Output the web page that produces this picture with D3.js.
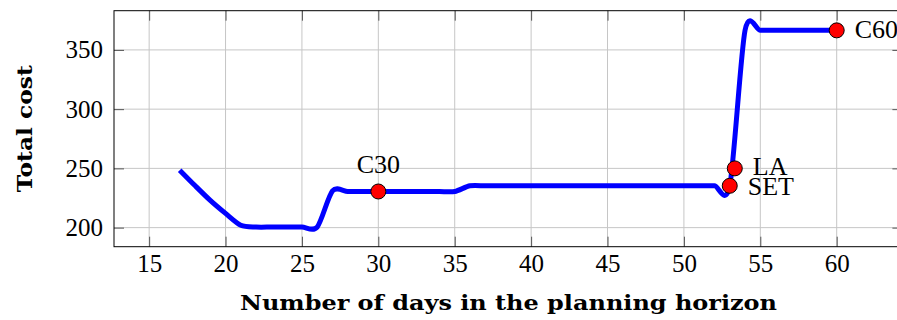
<!DOCTYPE html>
<html>
<head>
<meta charset="utf-8">
<script src="https://cdn.jsdelivr.net/npm/d3@7"></script>
<style>
  html, body { margin: 0; padding: 0; background: #fff; }
  svg { display: block; }
</style>
</head>
<body>
<svg id="chart" width="897" height="320"></svg>
<script>
// Planning horizon (days) and the resulting total cost
const days = [17, 18, 19, 20, 21, 22, 23, 24, 25, 26, 27, 28, 29, 30, 31, 32, 33, 34, 35, 36,
              37, 38, 39, 40, 41, 42, 43, 44, 45, 46, 47, 48, 49, 50, 51, 52, 53, 54, 55, 56,
              57, 58, 59, 60];
const totalCost = [248.5, 235.5, 223, 212, 202, 200.5, 200.5, 200.5, 200.5, 200.5,
                   231, 230.5, 230.5, 230.5, 230.5, 230.5, 230.5, 230.5, 230.5, 235.3,
                   235.3, 235.3, 235.3, 235.3, 235.3, 235.3, 235.3, 235.3, 235.3, 235.3,
                   235.3, 235.3, 235.3, 235.3, 235.3, 235.3, 235.3, 366.5, 366.5, 366.5,
                   366.5, 366.5, 366.5, 366.5];

// Named reference solutions
const pointNames = ["C30", "SET", "LA", "C60"];
const pointDays = [30, 53, 53.33, 60];
const pointCosts = [230.5, 235.3, 250, 366.5];

// Tick labels
const xTicks = [15, 20, 25, 30, 35, 40, 45, 50, 55, 60];
const yTicks = [200, 250, 300, 350];

const xTitle = "Number of days in the planning horizon";
const yTitle = "Total cost";

// ---- layout ----
const plotLeft = 114, plotRight = 902.4, plotTop = 10.7, plotBottom = 246.7;
const tickLen = 10;
const textFont = "'Liberation Serif', 'Times New Roman', serif";
const titleFont = "'DejaVu Serif', 'Liberation Serif', serif";

// axis limits enlarged by 10% of the data range on each side
function enlarge([lo, hi]) { const p = (hi - lo) * 0.1; return [lo - p, hi + p]; }

const x = d3.scaleLinear().domain(enlarge(d3.extent(days))).range([plotLeft, plotRight]);
const y = d3.scaleLinear().domain(enlarge(d3.extent(totalCost))).range([plotBottom, plotTop]);

const svg = d3.select("#chart");

// grid
const grid = svg.append("g").attr("stroke", "#c6c6c6").attr("stroke-width", 1);
grid.selectAll("line.vx").data(xTicks).join("line")
  .attr("x1", d => x(d)).attr("x2", d => x(d))
  .attr("y1", plotTop).attr("y2", plotBottom);
grid.selectAll("line.hy").data(yTicks).join("line")
  .attr("x1", plotLeft).attr("x2", plotRight)
  .attr("y1", d => y(d)).attr("y2", d => y(d));

// axes with inward ticks on all four sides
function styleAxis(g) {
  g.attr("font-family", null).attr("font-size", null);
  g.select(".domain").remove();
  g.selectAll(".tick line").attr("stroke", "#555").attr("stroke-width", 1);
  g.selectAll(".tick text")
    .style("font-family", textFont)
    .style("font-size", "25px")
    .style("fill", "#000");
}

svg.append("g").attr("transform", `translate(0,${plotBottom})`)
  .call(d3.axisBottom(x).tickValues(xTicks).tickSizeInner(-tickLen).tickSizeOuter(0).tickPadding(8))
  .call(styleAxis);
svg.append("g").attr("transform", `translate(0,${plotTop})`)
  .call(d3.axisTop(x).tickValues(xTicks).tickSizeInner(-tickLen).tickSizeOuter(0).tickFormat(""))
  .call(styleAxis);
svg.append("g").attr("transform", `translate(${plotLeft},0)`)
  .call(d3.axisLeft(y).tickValues(yTicks).tickSizeInner(-tickLen).tickSizeOuter(0).tickPadding(11))
  .call(styleAxis);
svg.append("g").attr("transform", `translate(${plotRight},0)`)
  .call(d3.axisRight(y).tickValues(yTicks).tickSizeInner(-tickLen).tickSizeOuter(0).tickFormat(""))
  .call(styleAxis);

// frame
svg.append("rect")
  .attr("x", plotLeft).attr("y", plotTop)
  .attr("width", plotRight - plotLeft).attr("height", plotBottom - plotTop)
  .attr("fill", "none").attr("stroke", "#000").attr("stroke-width", 1);

// cost curve
const line = d3.line()
  .x((d, i) => x(days[i]))
  .y(d => y(d))
  .curve(d3.curveCardinal.tension(0.166));

svg.append("path")
  .datum(totalCost)
  .attr("d", line)
  .attr("fill", "none")
  .attr("stroke", "#0000ff")
  .attr("stroke-width", 5)
  .attr("stroke-linejoin", "round")
  .attr("stroke-linecap", "butt");

// named points
const pts = pointNames.map((name, i) => ({ name, day: pointDays[i], cost: pointCosts[i] }));
const labelAbove = new Set(["C30"]);
const baselineShift = { SET: 9.5, LA: 6.5, C60: 8 };

svg.append("g").selectAll("circle").data(pts).join("circle")
  .attr("cx", d => x(d.day)).attr("cy", d => y(d.cost)).attr("r", 7.5)
  .attr("fill", "#ff0000").attr("stroke", "#000").attr("stroke-width", 1);

svg.append("g").selectAll("text").data(pts).join("text")
  .style("font-family", textFont)
  .style("font-size", "26px")
  .style("fill", "#000")
  .attr("x", d => labelAbove.has(d.name) ? x(d.day) : x(d.day) + 18)
  .attr("y", d => labelAbove.has(d.name) ? y(d.cost) - 18 : y(d.cost) + baselineShift[d.name])
  .attr("text-anchor", d => labelAbove.has(d.name) ? "middle" : "start")
  .text(d => d.name);

// axis titles
svg.append("text")
  .style("font-family", titleFont).style("font-weight", "bold").style("font-size", "21px")
  .attr("x", 508.5).attr("y", 310)
  .attr("text-anchor", "middle")
  .attr("textLength", 537).attr("lengthAdjust", "spacingAndGlyphs")
  .text(xTitle);

svg.append("text")
  .style("font-family", titleFont).style("font-weight", "bold").style("font-size", "21px")
  .attr("transform", `translate(32,${(plotTop + plotBottom) / 2}) rotate(-90)`)
  .attr("text-anchor", "middle")
  .attr("textLength", 127).attr("lengthAdjust", "spacingAndGlyphs")
  .text(yTitle);
</script>
</body>
</html>
